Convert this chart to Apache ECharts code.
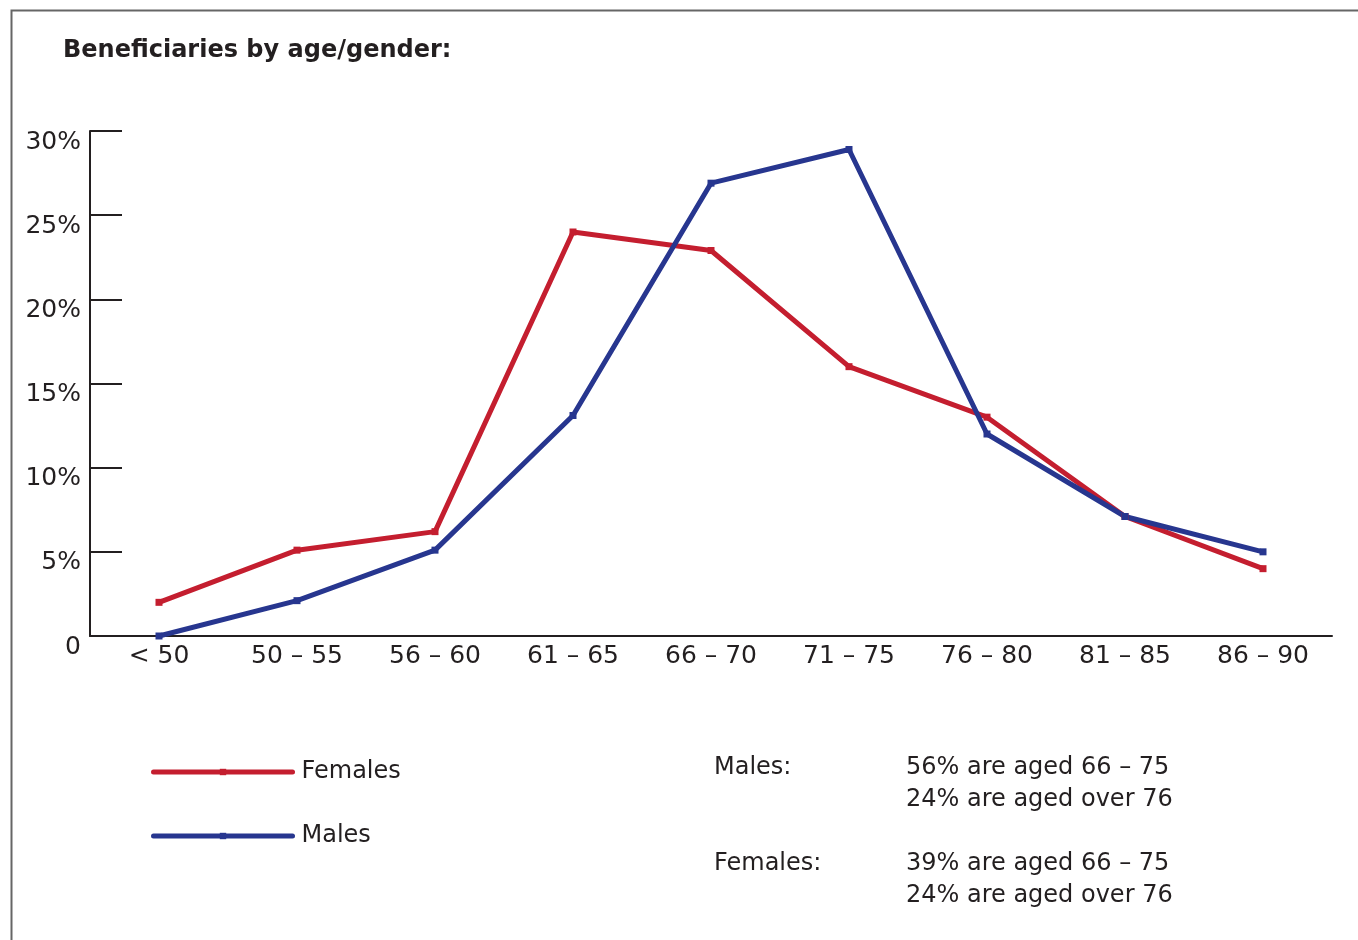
<!DOCTYPE html>
<html>
<head>
<meta charset="utf-8">
<script src="https://cdn.jsdelivr.net/npm/echarts@6/dist/echarts.min.js"></script>
<style>
  html, body { margin: 0; padding: 0; background: #fff; }
  #chart { width: 1358px; height: 940px; }
</style>
</head>
<body>
<div id="chart"></div>
<script>
// Age bands on the x axis
const ageBands = ['< 50', '50 – 55', '56 – 60', '61 – 65', '66 – 70', '71 – 75', '76 – 80', '81 – 85', '86 – 90'];
// Share of beneficiaries in each age band (%)
const females = [2.0, 5.1, 6.2, 24.0, 22.9, 16.0, 13.0, 7.1, 4.0];
const males = [0.0, 2.1, 5.1, 13.1, 26.9, 28.9, 12.0, 7.1, 5.0];
// Summary notes shown beside the legend
const noteHeads = ['Males:', 'Females:'];
const noteLines = [
  ['56% are aged 66 – 75', '24% are aged over 76'],
  ['39% are aged 66 – 75', '24% are aged over 76']
];

const FONT = '"DejaVu Sans", Verdana, sans-serif';
const INK = '#231f20';
const RED = '#c41e2f';
const BLUE = '#27368f';
const FS = 24;
const AXIS_FS = 25;

const chart = echarts.init(document.getElementById('chart'), null, { renderer: 'canvas' });

const noteGraphics = [];
noteHeads.forEach((head, i) => {
  const y0 = 766 + i * 96;
  noteGraphics.push({
    type: 'text', left: 714, top: y0 - 10,
    style: { text: head, font: FS + 'px ' + FONT, fill: INK }
  });
  noteLines[i].forEach((line, j) => {
    noteGraphics.push({
      type: 'text', left: 906, top: y0 - 10 + j * 32,
      style: { text: line, font: FS + 'px ' + FONT, fill: INK }
    });
  });
});

chart.setOption({
  animation: false,
  backgroundColor: '#fff',
  textStyle: { fontFamily: FONT },
  graphic: [
    {
      type: 'rect', left: 9, top: 8, z: -1,
      shape: { width: 1400, height: 1000 },
      style: { fill: 'none', stroke: '#666', lineWidth: 2 }
    },
    {
      type: 'text', left: 63, top: 39,
      style: { text: 'Beneficiaries by age/gender:', font: 'bold 24px ' + FONT, fill: INK }
    }
  ].concat(noteGraphics),
  legend: {
    orient: 'vertical',
    left: 151, top: 760,
    padding: 0,
    itemWidth: 139, itemHeight: 8,
    itemGap: 40,
    itemStyle: { borderWidth: 0 },
    lineStyle: { width: 5, cap: 'round' },
    textStyle: { fontSize: FS, color: INK, fontFamily: FONT, lineHeight: 8, padding: [0, 0, 10, 4] },
    data: [
      { name: 'Females', itemStyle: { color: RED } },
      { name: 'Males', itemStyle: { color: BLUE } }
    ]
  },
  grid: { left: 90, right: 26, top: 131, bottom: 304, containLabel: false },
  xAxis: {
    type: 'category',
    data: ageBands,
    boundaryGap: true,
    axisLine: { lineStyle: { color: INK, width: 2 } },
    axisTick: { inside: true, length: 13, alignWithLabel: false, lineStyle: { color: INK, width: 2 } },
    axisLabel: { fontSize: AXIS_FS, color: INK, margin: 8, fontFamily: FONT }
  },
  yAxis: {
    type: 'value',
    min: 0, max: 30, interval: 5,
    axisLine: { show: true, lineStyle: { color: INK, width: 2 } },
    axisTick: { show: true, inside: true, length: 32, lineStyle: { color: INK, width: 2 } },
    splitLine: { show: false },
    axisLabel: {
      fontSize: AXIS_FS, color: INK, margin: 9, fontFamily: FONT,
      verticalAlign: 'top', lineHeight: 22,
      formatter: v => (v === 0 ? '0' : v + '%')
    }
  },
  series: [
    {
      name: 'Females', type: 'line', data: females,
      symbol: 'rect', symbolSize: 7,
      itemStyle: { color: RED },
      lineStyle: { color: RED, width: 5 }
    },
    {
      name: 'Males', type: 'line', data: males,
      symbol: 'rect', symbolSize: 7,
      itemStyle: { color: BLUE },
      lineStyle: { color: BLUE, width: 5 }
    }
  ]
});
</script>
</body>
</html>
